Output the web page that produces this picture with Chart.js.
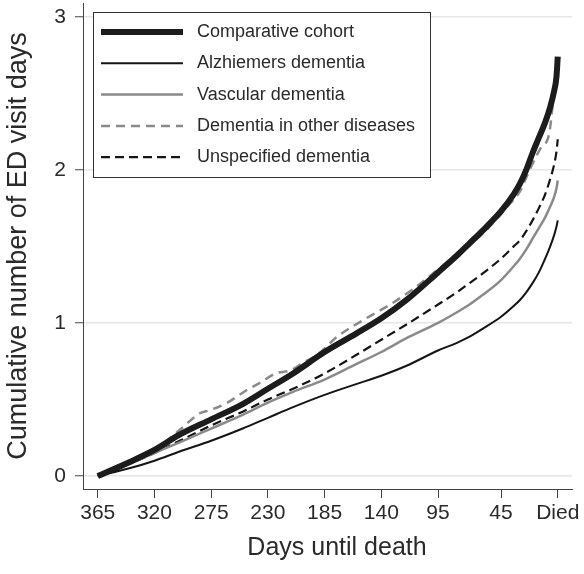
<!DOCTYPE html>
<html>
<head>
<meta charset="utf-8">
<script src="https://cdn.jsdelivr.net/npm/chart.js@4.4.1/dist/chart.umd.min.js"></script>
<style>
  html, body { margin: 0; padding: 0; background: #fff; }
</style>
</head>
<body>
<canvas id="myChart" width="584" height="574"></canvas>
<script>
// Days before death (x), shared by most series
const days = [365, 340, 320, 300, 275, 250, 230, 210, 185, 160, 140, 120, 95, 80, 70, 60, 45, 35, 30, 25, 20, 15, 10, 6, 3, 1, 0];
const cohort      = [0, 0.09, 0.17, 0.27, 0.37, 0.47, 0.57, 0.67, 0.81, 0.93, 1.03, 1.15, 1.33, 1.44, 1.52, 1.60, 1.73, 1.84, 1.91, 2.00, 2.11, 2.21, 2.31, 2.41, 2.51, 2.61, 2.74];
const alzheimers  = [0, 0.05, 0.10, 0.16, 0.23, 0.31, 0.38, 0.45, 0.53, 0.60, 0.655, 0.72, 0.82, 0.87, 0.91, 0.96, 1.04, 1.11, 1.15, 1.20, 1.26, 1.33, 1.42, 1.50, 1.57, 1.63, 1.67];
const vascular    = [0, 0.08, 0.15, 0.22, 0.31, 0.40, 0.48, 0.55, 0.63, 0.73, 0.81, 0.90, 1.00, 1.07, 1.12, 1.18, 1.28, 1.37, 1.42, 1.48, 1.55, 1.62, 1.69, 1.76, 1.82, 1.88, 1.93];
const unspecified = [0, 0.08, 0.15, 0.23, 0.33, 0.42, 0.50, 0.57, 0.67, 0.79, 0.89, 0.99, 1.12, 1.20, 1.26, 1.32, 1.42, 1.50, 1.54, 1.60, 1.67, 1.75, 1.84, 1.94, 2.03, 2.12, 2.20];
// Dementia in other diseases is bumpier, read at its own points
const daysOther = [365, 340, 320, 300, 284, 276, 263, 247, 236, 224, 212, 202, 191, 175, 154, 133, 115, 95, 80, 70, 60, 45, 40, 30, 25, 20, 13, 8, 6, 3.5, 1, 0];
const otherDis  = [0, 0.09, 0.17, 0.30, 0.41, 0.43, 0.475, 0.56, 0.61, 0.67, 0.69, 0.74, 0.79, 0.91, 1.02, 1.12, 1.22, 1.35, 1.45, 1.51, 1.58, 1.71, 1.76, 1.86, 1.95, 2.04, 2.15, 2.20, 2.28, 2.46, 2.60, 2.68];

const seriesNames = ['Comparative cohort', 'Alzhiemers dementia', 'Vascular dementia', 'Dementia in other diseases', 'Unspecified dementia'];
const xTicks = [365, 320, 275, 230, 185, 140, 95, 45, 0];
const yTicks = [0, 1, 2, 3];
const xTitle = 'Days until death';

const pts = (xs, ys) => xs.map((d, i) => ({ x: d, y: ys[i] }));
const FONT = '"Liberation Sans", Arial, Helvetica, sans-serif';
const TXT = '#2a2a2a';

// legend drawn inside the plot, top left, boxed; x title placed a bit right of centre as in the original
const boxLegend = {
  id: 'boxLegend',
  afterDraw(chart) {
    const c = chart.ctx;
    const x0 = 93, y0 = 12, w = 337, h = 165;
    c.save();
    c.fillStyle = '#fff';
    c.fillRect(x0, y0, w, h);
    c.strokeStyle = '#333';
    c.lineWidth = 1;
    c.strokeRect(x0 + 0.5, y0 + 0.5, w, h);
    chart.data.datasets.forEach((ds, i) => {
      const y = 32 + i * 31.3;
      c.beginPath();
      c.strokeStyle = ds.borderColor;
      c.lineWidth = ds.borderWidth;
      c.setLineDash(ds.borderDash || []);
      c.moveTo(101, y);
      c.lineTo(183, y);
      c.stroke();
      c.setLineDash([]);
      c.fillStyle = TXT;
      c.font = '18px ' + FONT;
      c.textBaseline = 'middle';
      c.textAlign = 'left';
      c.fillText(ds.label, 197, y);
    });
    c.font = '25px ' + FONT;
    c.textAlign = 'center';
    c.textBaseline = 'middle';
    c.fillText(xTitle, 337, 548);
    c.restore();
  }
};

const ctx = document.getElementById('myChart').getContext('2d');
const myChart = new Chart(ctx, {
  type: 'line',
  data: {
    datasets: [{
      label: seriesNames[0],
      data: pts(days, cohort),
      borderColor: '#1c1c1c',
      borderWidth: 6
    }, {
      label: seriesNames[1],
      data: pts(days, alzheimers),
      borderColor: '#151515',
      borderWidth: 2
    }, {
      label: seriesNames[2],
      data: pts(days, vascular),
      borderColor: '#8a8a8a',
      borderWidth: 2.5
    }, {
      label: seriesNames[3],
      data: pts(daysOther, otherDis),
      borderColor: '#8a8a8a',
      borderWidth: 2.5,
      borderDash: [9, 6]
    }, {
      label: seriesNames[4],
      data: pts(days, unspecified),
      borderColor: '#151515',
      borderWidth: 2.2,
      borderDash: [9, 5]
    }]
  },
  options: {
    responsive: false,
    animation: false,
    events: [],
    parsing: false,
    layout: { padding: { left: 0, right: 12, top: 3, bottom: 0 } },
    elements: {
      point: { radius: 0 },
      line: { cubicInterpolationMode: 'monotone', fill: false, borderCapStyle: 'butt' }
    },
    plugins: {
      legend: { display: false },
      tooltip: { enabled: false }
    },
    scales: {
      x: {
        type: 'linear',
        reverse: true,
        min: -11.3,
        max: 376.7,
        afterBuildTicks: s => { s.ticks = xTicks.map(v => ({ value: v })); },
        afterFit: s => { s.height = 85; s.paddingLeft = 0; s.paddingRight = 0; },
        ticks: {
          autoSkip: false,
          maxRotation: 0,
          padding: 3,
          color: TXT,
          font: { family: FONT, size: 21 },
          callback: v => v === 0 ? 'Died' : String(v)
        },
        grid: { drawOnChartArea: false, tickColor: '#444', tickLength: 9, tickWidth: 1 },
        border: { color: '#444', width: 1 },
        title: { display: false }
      },
      y: {
        type: 'linear',
        min: -0.085,
        max: 3.09,
        afterBuildTicks: s => { s.ticks = yTicks.map(v => ({ value: v })); },
        afterFit: s => { s.width = 83; s.paddingTop = 0; s.paddingBottom = 0; },
        ticks: {
          padding: 9,
          color: TXT,
          font: { family: FONT, size: 21 }
        },
        grid: { color: '#e6e6e6', lineWidth: 1.5, tickColor: '#444', tickLength: 8, tickWidth: 1 },
        border: { color: '#444', width: 1 },
        title: {
          display: true,
          text: 'Cumulative number of ED visit days',
          color: TXT,
          font: { family: FONT, size: 27 },
          padding: { top: 2, bottom: 0 }
        }
      }
    }
  },
  plugins: [boxLegend]
});
</script>
</body>
</html>
